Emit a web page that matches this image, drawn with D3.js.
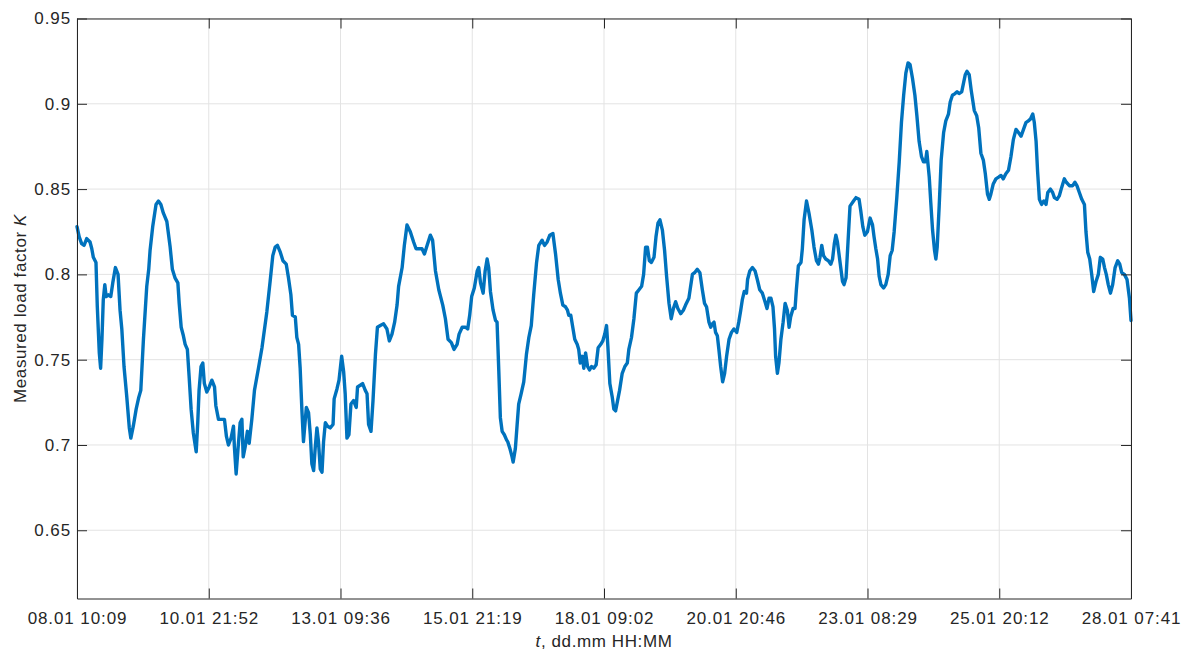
<!DOCTYPE html>
<html>
<head>
<meta charset="utf-8">
<script src="https://cdn.jsdelivr.net/npm/d3@7"></script>
<style>
  body { margin: 0; background: #fff; }
  svg { display: block; }
  text { font-family: "Liberation Sans", Arial, sans-serif; fill: #262626; }
</style>
</head>
<body>
<div id="chart"></div>
<script>
// Measured load factor K over time (hours since 08.01 10:09)

const hours = [
  0, 1.0, 2.1, 3.2, 4.4, 5.9, 6.7, 7.4, 8.6, 9.2, 10.1, 10.7, 11.3, 11.9, 12.6, 13.2, 14.2, 15.3, 16.2, 17.4,
  18.6, 19.5, 20.3, 21.3, 22.5, 23.7, 24.4, 25.5, 26.8, 28.0, 28.9, 30.1, 31.6, 32.5, 33.1, 34.3, 35.8, 36.9, 38.0, 39.1,
  40.7, 42.2, 43.2, 44.4, 45.7, 46.3, 47.2, 48.2, 49.0, 50.0, 50.8, 51.7, 52.7, 54.0, 54.7, 55.3, 56.2, 57.0, 57.7, 58.8,
  59.9, 61.1, 62.3, 62.9, 64.1, 65.3, 66.8, 67.7, 68.6, 69.8, 70.9, 71.3, 72.1, 72.9, 73.9, 74.7, 75.3, 76.2, 77.2, 78.0,
  79.2, 80.4, 82.2, 83.8, 86.0, 87.5, 88.7, 89.8, 90.8, 92.1, 93.3, 94.8, 95.8, 96.9, 97.6, 98.9, 99.6, 100.4, 101.1, 101.9,
  102.6, 103.9, 104.9, 105.7, 106.4, 107.2, 107.9, 108.7, 109.4, 110.2, 111.0, 111.7, 112.5, 113.5, 114.7, 116.0, 116.5, 117.8, 118.7, 119.9,
  120.8, 121.5, 122.3, 123.2, 124.1, 125.3, 126.5, 127.1, 128.3, 129.4, 130.6, 131.4, 132.1, 133.2, 134.1, 135.2, 136.1, 137.4, 138.9, 140.4,
  141.5, 142.7, 143.9, 145.0, 145.7, 147.3, 148.3, 149.5, 151.0, 152.5, 153.6, 155.1, 156.3, 157.4, 158.6, 160.1, 161.1, 162.4, 163.9, 165.7,
  166.9, 168.1, 169.6, 170.8, 172.2, 173.1, 174.5, 176.0, 177.0, 177.9, 178.8, 180.0, 181.3, 182.0, 182.8, 184.0, 184.9, 185.8, 186.5, 187.3,
  188.5, 189.6, 190.3, 191.1, 191.8, 192.6, 193.6, 194.6, 195.1, 196.1, 197.1, 197.6, 198.6, 199.4, 200.1, 201.2, 202.4, 203.6, 204.7, 205.8,
  206.9, 208.2, 209.2, 210.7, 211.8, 213.0, 214.2, 215.6, 216.8, 218.0, 219.0, 220.1, 221.3, 222.2, 222.8, 223.7, 224.6, 225.5, 226.6, 227.3,
  228.0, 228.9, 229.6, 230.4, 231.3, 232.2, 233.1, 234.1, 235.2, 236.1, 237.3, 238.2, 239.1, 239.9, 240.5, 241.4, 242.5, 243.2, 244.0, 244.9,
  245.8, 247.0, 248.2, 249.3, 250.0, 251.2, 252.3, 253.4, 254.6, 255.8, 256.7, 257.6, 258.4, 259.3, 260.2, 261.4, 262.3, 263.2, 264.1, 265.2,
  266.2, 267.1, 268.2, 269.2, 270.2, 271.2, 272.2, 273.5, 274.7, 275.7, 277.2, 278.0, 278.8, 279.8, 281.0, 282.2, 283.3, 284.3, 285.2, 286.3,
  287.1, 287.8, 288.6, 289.3, 290.1, 290.8, 291.6, 292.5, 293.4, 294.3, 295.4, 296.5, 297.6, 298.9, 299.8, 300.7, 301.4, 302.3, 303.3, 303.8,
  304.8, 306.0, 307.2, 308.2, 309.3, 310.5, 311.7, 312.6, 313.5, 314.4, 315.3, 316.0, 316.5, 317.3, 318.0, 318.9, 319.9, 320.8, 321.8, 322.6,
  323.3, 324.4, 325.3, 325.9, 326.8, 328.0, 328.6, 329.4, 330.5, 331.6, 332.9, 333.9, 335.0, 335.9, 336.6, 337.4, 338.2, 339.2, 340.4, 341.5,
  342.3, 343.1, 343.8, 344.5, 345.7, 346.8, 347.5, 348.4, 349.3, 350.2, 351.8, 352.9, 354.3, 355.1, 356.0, 356.9, 358.1, 359.3, 360.4, 361.1,
  361.9, 362.7, 363.4, 364.2, 365.4, 366.4, 367.5, 368.4, 369.3, 370.2, 371.4, 372.5, 373.5, 374.5, 375.5, 376.5, 377.4, 378.5, 379.6, 380.5,
  381.5, 382.6, 383.5, 384.4, 385.0, 386.1, 386.8, 387.6, 388.5, 389.1, 389.7, 390.6, 391.5, 392.6, 393.6, 394.8, 395.6, 396.6, 397.8, 398.7,
  399.6, 400.8, 401.6, 402.4, 403.2, 404.2, 405.1, 406.5, 407.6, 408.5, 409.5, 410.6, 411.5, 412.5, 413.3, 414.0, 415.1, 416.3, 417.5, 418.6,
  419.6, 420.8, 422.0, 423.1, 424.2, 425.4, 426.6, 427.7, 428.8, 429.9, 431.0, 431.9, 433.0, 433.7, 434.5, 435.2, 436.0, 437.0, 438.0, 439.0,
  439.8, 441.0, 442.0, 442.8, 444.0, 445.0, 446.1, 447.3, 448.2, 449.6, 451.1, 452.1, 453.0, 454.1, 455.2, 456.4, 457.1, 457.9, 458.8, 459.7,
  460.6, 461.7, 462.7, 463.6, 464.7, 465.5, 466.3, 467.2, 468.2, 469.2, 470.3, 471.5, 472.4, 473.3, 474.5, 475.7, 476.8, 477.5
];

const loadK = [
  0.828, 0.822, 0.818, 0.817, 0.821, 0.819, 0.815, 0.810, 0.807, 0.781, 0.754, 0.745, 0.762, 0.785, 0.794, 0.787, 0.788, 0.787, 0.795, 0.804,
  0.800, 0.779, 0.768, 0.746, 0.729, 0.710, 0.704, 0.711, 0.721, 0.728, 0.732, 0.762, 0.793, 0.803, 0.814, 0.828, 0.841, 0.843, 0.841, 0.836,
  0.831, 0.816, 0.803, 0.798, 0.795, 0.783, 0.769, 0.764, 0.759, 0.756, 0.740, 0.721, 0.707, 0.696, 0.713, 0.732, 0.746, 0.748, 0.736, 0.731,
  0.734, 0.738, 0.734, 0.723, 0.715, 0.715, 0.715, 0.705, 0.700, 0.704, 0.711, 0.699, 0.683, 0.697, 0.713, 0.715, 0.693, 0.699, 0.708, 0.701,
  0.715, 0.732, 0.745, 0.757, 0.778, 0.796, 0.811, 0.816, 0.817, 0.813, 0.808, 0.806, 0.798, 0.788, 0.776, 0.775, 0.763, 0.759, 0.745, 0.720,
  0.702, 0.722, 0.719, 0.706, 0.689, 0.685, 0.698, 0.710, 0.702, 0.686, 0.684, 0.702, 0.713, 0.711, 0.710, 0.712, 0.727, 0.733, 0.738, 0.752,
  0.743, 0.730, 0.704, 0.706, 0.724, 0.726, 0.722, 0.734, 0.735, 0.736, 0.732, 0.730, 0.712, 0.708, 0.726, 0.753, 0.769, 0.770, 0.771, 0.768,
  0.761, 0.765, 0.772, 0.782, 0.793, 0.804, 0.817, 0.829, 0.825, 0.819, 0.815, 0.815, 0.815, 0.812, 0.817, 0.823, 0.820, 0.802, 0.791, 0.782,
  0.774, 0.762, 0.760, 0.756, 0.759, 0.765, 0.769, 0.769, 0.768, 0.776, 0.787, 0.792, 0.802, 0.804, 0.795, 0.789, 0.802, 0.809, 0.804, 0.790,
  0.779, 0.773, 0.772, 0.743, 0.716, 0.708, 0.706, 0.703, 0.702, 0.698, 0.693, 0.690, 0.698, 0.712, 0.724, 0.730, 0.737, 0.753, 0.763, 0.770,
  0.788, 0.807, 0.817, 0.820, 0.817, 0.819, 0.823, 0.824, 0.812, 0.797, 0.789, 0.782, 0.781, 0.779, 0.776, 0.776, 0.769, 0.762, 0.759, 0.756,
  0.748, 0.752, 0.745, 0.754, 0.746, 0.744, 0.746, 0.745, 0.747, 0.757, 0.759, 0.761, 0.765, 0.770, 0.758, 0.736, 0.728, 0.721, 0.720, 0.726,
  0.732, 0.742, 0.746, 0.748, 0.756, 0.763, 0.774, 0.789, 0.791, 0.793, 0.800, 0.816, 0.816, 0.808, 0.807, 0.810, 0.822, 0.830, 0.832, 0.826,
  0.814, 0.799, 0.783, 0.774, 0.780, 0.784, 0.780, 0.777, 0.779, 0.782, 0.786, 0.793, 0.800, 0.801, 0.803, 0.801, 0.791, 0.783, 0.781, 0.772,
  0.769, 0.771, 0.772, 0.766, 0.764, 0.756, 0.746, 0.737, 0.742, 0.752, 0.762, 0.766, 0.768, 0.766, 0.772, 0.779, 0.785, 0.790, 0.789, 0.797,
  0.802, 0.804, 0.802, 0.797, 0.791, 0.789, 0.784, 0.780, 0.786, 0.786, 0.781, 0.768, 0.752, 0.742, 0.748, 0.762, 0.772, 0.783, 0.779, 0.769,
  0.775, 0.780, 0.780, 0.791, 0.805, 0.807, 0.815, 0.832, 0.843, 0.836, 0.826, 0.816, 0.808, 0.806, 0.810, 0.817, 0.811, 0.809, 0.808, 0.806,
  0.809, 0.818, 0.823, 0.819, 0.807, 0.796, 0.794, 0.798, 0.819, 0.840, 0.843, 0.845, 0.844, 0.837, 0.828, 0.823, 0.825, 0.833, 0.829, 0.822,
  0.815, 0.809, 0.799, 0.794, 0.792, 0.794, 0.800, 0.811, 0.814, 0.825, 0.845, 0.866, 0.889, 0.905, 0.918, 0.924, 0.923, 0.915, 0.905, 0.893,
  0.878, 0.869, 0.866, 0.866, 0.872, 0.857, 0.842, 0.826, 0.814, 0.809, 0.816, 0.840, 0.867, 0.883, 0.890, 0.894, 0.901, 0.905, 0.906, 0.907,
  0.906, 0.907, 0.912, 0.917, 0.919, 0.917, 0.908, 0.896, 0.893, 0.886, 0.871, 0.867, 0.859, 0.847, 0.844, 0.847, 0.853, 0.856, 0.857, 0.858,
  0.856, 0.859, 0.861, 0.869, 0.879, 0.885, 0.883, 0.881, 0.885, 0.889, 0.890, 0.891, 0.894, 0.889, 0.878, 0.860, 0.844, 0.841, 0.843, 0.841,
  0.848, 0.850, 0.848, 0.845, 0.844, 0.846, 0.851, 0.856, 0.854, 0.852, 0.852, 0.854, 0.852, 0.848, 0.844, 0.841, 0.825, 0.813, 0.809, 0.800,
  0.790, 0.796, 0.800, 0.810, 0.809, 0.804, 0.800, 0.794, 0.789, 0.794, 0.804, 0.808, 0.806, 0.801, 0.800, 0.797, 0.786, 0.773
];

const xTickLabels = ["08.01 10:09", "10.01 21:52", "13.01 09:36", "15.01 21:19", "18.01 09:02",
                     "20.01 20:46", "23.01 08:29", "25.01 20:12", "28.01 07:41"];
const yTicks = [0.65, 0.7, 0.75, 0.8, 0.85, 0.9, 0.95];
const yDomain = [0.61, 0.95];

const width = 1187, height = 652;
const margin = { top: 18.5, right: 56, bottom: 53.5, left: 77 };
const iw = width - margin.left - margin.right;
const ih = height - margin.top - margin.bottom;

const data = hours.map((h, i) => ({ h: h, k: loadK[i] }));
const tEnd = hours[hours.length - 1];
const xTicks = d3.range(xTickLabels.length).map(i => i * tEnd / (xTickLabels.length - 1));

const x = d3.scaleLinear().domain([0, tEnd]).range([0, iw]);
const y = d3.scaleLinear().domain(yDomain).range([ih, 0]);

const svg = d3.select("#chart").append("svg")
    .attr("width", width).attr("height", height);
const g = svg.append("g").attr("transform", `translate(${margin.left},${margin.top})`);

// --- GRID ---
g.append("g").selectAll("line").data(xTicks).join("line")
    .attr("x1", d => x(d)).attr("x2", d => x(d)).attr("y1", 0).attr("y2", ih)
    .attr("stroke", "#e3e3e3").attr("stroke-width", 1);
g.append("g").selectAll("line").data(yTicks).join("line")
    .attr("x1", 0).attr("x2", iw).attr("y1", d => y(d)).attr("y2", d => y(d))
    .attr("stroke", "#e3e3e3").attr("stroke-width", 1);

// --- LINE ---
const line = d3.line().x(d => x(d.h)).y(d => y(d.k));
g.append("path").datum(data)
    .attr("fill", "none").attr("stroke", "#0072BD").attr("stroke-width", 3.4)
    .attr("stroke-linejoin", "round").attr("stroke-linecap", "round")
    .attr("d", line);

// --- AXES (MATLAB style, ticks inward, box on) ---
const fmtX = (d, i) => xTickLabels[i];
const styleAxis = sel => {
    sel.selectAll(".domain").attr("stroke", "#262626");
    sel.selectAll(".tick line").attr("stroke", "#262626");
    sel.selectAll("text").attr("fill", "#262626")
        .style("font-family", '"Liberation Sans", Arial, sans-serif')
        .style("font-size", "17px").style("letter-spacing", "0.9px");
};

g.append("g").attr("transform", `translate(0,${ih})`)
    .call(d3.axisBottom(x).tickValues(xTicks).tickFormat(fmtX).tickSize(-10).tickSizeOuter(0).tickPadding(13))
    .call(styleAxis);
g.append("g")
    .call(d3.axisTop(x).tickValues(xTicks).tickFormat("").tickSize(-10).tickSizeOuter(0))
    .call(styleAxis);
g.append("g")
    .call(d3.axisLeft(y).tickValues(yTicks).tickFormat(d3.format("")).tickSize(-10).tickSizeOuter(0).tickPadding(6))
    .call(styleAxis);
g.append("g").attr("transform", `translate(${iw},0)`)
    .call(d3.axisRight(y).tickValues(yTicks).tickFormat("").tickSize(-10).tickSizeOuter(0))
    .call(styleAxis);

// --- LABELS ---
const xl = svg.append("text")
    .attr("x", margin.left + iw / 2).attr("y", 647)
    .attr("text-anchor", "middle").style("font-size", "17px").style("letter-spacing", "0.6px");
xl.append("tspan").attr("font-style", "italic").text("t");
xl.append("tspan").text(", dd.mm HH:MM");

const yl = svg.append("text")
    .attr("transform", `translate(26,${margin.top + ih / 2}) rotate(-90)`)
    .attr("text-anchor", "middle").style("font-size", "17px").style("letter-spacing", "0.6px");
yl.append("tspan").text("Measured load factor ");
yl.append("tspan").attr("font-style", "italic").text("K");
</script>
</body>
</html>
